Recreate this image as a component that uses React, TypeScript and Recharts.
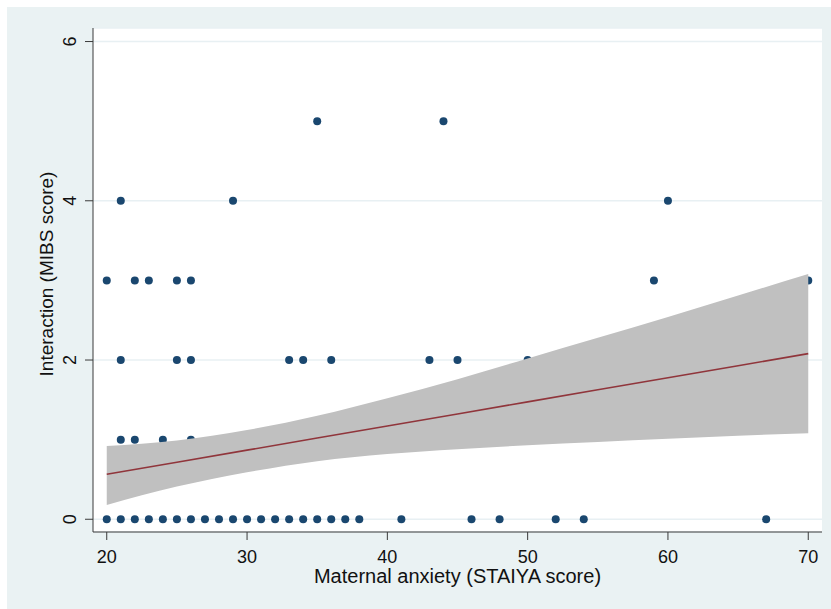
import { ComposedChart, Scatter, Area, Line, XAxis, YAxis, CartesianGrid, Label } from 'recharts'

// observed scores (maternal anxiety vs MIBS interaction)
const anxietyScores = [
  20, 21, 22, 23, 24, 25, 26, 27, 28, 29, 30, 31, 32, 33, 34, 35, 36, 37, 38, 41, 46, 48, 52, 54, 67,
  21, 22, 24, 26,
  21, 25, 26, 33, 34, 36, 43, 45, 50,
  20, 22, 23, 25, 26, 59, 70,
  21, 29, 60,
  35, 44,
]
const mibsScores = [
  0, 0, 0, 0, 0, 0, 0, 0, 0, 0, 0, 0, 0, 0, 0, 0, 0, 0, 0, 0, 0, 0, 0, 0, 0,
  1, 1, 1, 1,
  2, 2, 2, 2, 2, 2, 2, 2, 2,
  3, 3, 3, 3, 3, 3, 3,
  4, 4, 4,
  5, 5,
]

// fitted line and 95% CI
const fitX = [20, 25, 30, 35, 40, 45, 50, 55, 60, 65, 70]
const fitY = [0.565, 0.717, 0.868, 1.02, 1.171, 1.323, 1.474, 1.626, 1.777, 1.929, 2.08]
const ciLow = [0.18, 0.41, 0.59, 0.73, 0.82, 0.88, 0.93, 0.97, 1.01, 1.05, 1.08]
const ciHigh = [0.92, 0.99, 1.12, 1.30, 1.52, 1.76, 2.02, 2.28, 2.54, 2.81, 3.08]

const xTicks = [20, 30, 40, 50, 60, 70]
const yTicks = [0, 2, 4, 6]

const points = anxietyScores.map((x, i) => ({ x, y: mibsScores[i] }))
const fitData = fitX.map((x, i) => ({ x, fit: fitY[i], ci: [ciLow[i], ciHigh[i]] }))

const font = '"Liberation Sans", Arial, sans-serif'
const axisColor = '#3a3a3a'

const YTick = ({ x, y, payload }: any) => {
  const cx = x - 13
  return (
    <text
      x={cx}
      y={y}
      transform={`rotate(-90 ${cx} ${y})`}
      textAnchor="middle"
      dominantBaseline="central"
      fontSize={18}
      fontFamily={font}
      fill="#111"
    >
      {payload.value}
    </text>
  )
}

const Dot = ({ cx, cy }: any) => <circle cx={cx} cy={cy} r={4} fill="#1a476f" />

export default function App() {
  return (
    <div style={{ position: 'absolute', left: 7, top: 7, width: 824, height: 602, background: '#eaf2f3' }}>
      <ComposedChart width={824} height={602} data={fitData} margin={{ top: 21, right: 9, left: 0, bottom: 0 }}>
        <CartesianGrid vertical={false} stroke="#e8f0f3" strokeWidth={1.5} fill="#ffffff" />
        <XAxis
          type="number"
          dataKey="x"
          domain={[19.02, 70.98]}
          ticks={xTicks}
          allowDataOverflow
          height={77}
          tickSize={8}
          tickMargin={10}
          stroke={axisColor}
          tick={{ fontSize: 18, fontFamily: font, fill: '#111' }}
        >
          <Label
            value="Maternal anxiety (STAIYA score)"
            position="insideBottom"
            offset={26}
            style={{ fontSize: 20, fontFamily: font, fill: '#111' }}
          />
        </XAxis>
        <YAxis
          type="number"
          domain={[-0.16, 6.17]}
          ticks={yTicks}
          allowDataOverflow
          width={86}
          tickSize={8}
          stroke={axisColor}
          tick={<YTick />}
        >
          <Label
            content={({ viewBox }: any) => {
              const cx = 39
              const cy = viewBox.y + viewBox.height / 2 - 6
              return (
                <text
                  x={cx}
                  y={cy}
                  transform={`rotate(-90 ${cx} ${cy})`}
                  textAnchor="middle"
                  dominantBaseline="central"
                  fontSize={19}
                  fontFamily={font}
                  fill="#111"
                >
                  Interaction (MIBS score)
                </text>
              )
            }}
          />
        </YAxis>
        {/* band sits on top of the dots, as in the Stata output */}
        <Scatter data={points} dataKey="y" shape={<Dot />} isAnimationActive={false} zIndex={100} />
        <Area
          dataKey="ci"
          type="monotone"
          stroke="none"
          fill="#c0c0c0"
          fillOpacity={1}
          isAnimationActive={false}
          activeDot={false}
          zIndex={700}
        />
        <Line
          dataKey="fit"
          type="linear"
          stroke="#90353b"
          strokeWidth={1.6}
          dot={false}
          activeDot={false}
          isAnimationActive={false}
          zIndex={800}
        />
      </ComposedChart>
    </div>
  )
}
